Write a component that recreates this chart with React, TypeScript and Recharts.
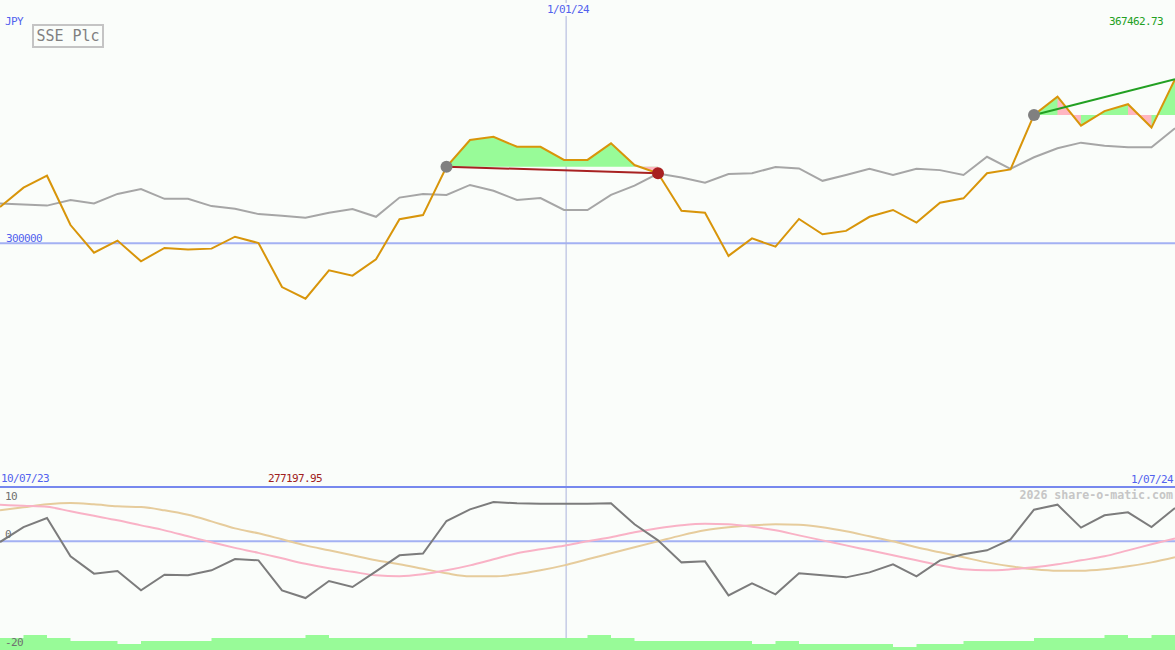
import React from 'react';
import { ComposedChart, Line, Area, XAxis, YAxis, ReferenceLine, ReferenceDot } from 'recharts';

// ---- data (weekly points, index 0 = 10/07/23, index 50 = 1/07/24) ----
const CLOSE = [314900, 322900, 327800, 307500, 296100, 301100, 292600, 298100, 297400, 297800,
  302700, 300100, 282000, 277197.95, 288900, 286700, 293400, 309900, 311600, 331500,
  342500, 343800, 339700, 339700, 334300, 334300, 341100, 332200, 328800, 313400,
  312600, 294800, 302000, 298600, 310000, 303700, 305100, 310900, 313700, 308500,
  316700, 318500, 328800, 330400, 352800, 360300, 348400, 354400, 357200, 347600, 367462.73];

const AVG = [316400, 316000, 315500, 317800, 316400, 320300, 322300, 318300, 318300, 315300,
  314200, 312000, 311300, 310500, 312600, 314100, 310900, 318800, 320300, 319900,
  324000, 321600, 317800, 318600, 313700, 313700, 319900, 323700, 328700, 327100,
  324900, 328500, 328800, 331400, 330800, 325700, 328100, 330600, 328100, 330700,
  330100, 328100, 335600, 330600, 335400, 339100, 341400, 340100, 339500, 339500, 347300];

const OSC = [-0.13, 2.63, 4.29, -2.76, -5.95, -5.47, -9.02, -6.13, -6.26, -5.34,
  -3.26, -3.5, -9.02, -10.44, -7.31, -8.41, -5.52, -2.58, -2.26, 3.74,
  5.89, 7.23, 6.99, 6.94, 6.94, 6.94, 6.99, 3.13, 0.18, -3.87,
  -3.68, -9.94, -7.73, -9.75, -5.89, -6.26, -6.63, -5.71, -4.23, -6.44,
  -3.5, -2.39, -1.66, 0.37, 5.83, 6.75, 2.52, 4.79, 5.34, 2.63, 6.13];

const PINK = [6.72, 6.53, 6.35, 5.52, 4.69, 3.87, 2.94, 2.02, 0.92, -0.18,
  -1.2, -2.12, -3.13, -4.14, -4.97, -5.61, -6.26, -6.44, -6.07, -5.34,
  -4.42, -3.31, -2.21, -1.47, -0.83, 0, 0.74, 1.66, 2.39, 2.94,
  3.22, 3.13, 2.67, 2.02, 1.1, 0.18, -0.74, -1.66, -2.58, -3.5,
  -4.42, -5.15, -5.34, -5.15, -4.79, -4.23, -3.5, -2.76, -1.66, -0.55, 0.55];

const TAN = [5.71, 6.26, 6.81, 7.05, 6.81, 6.44, 6.31, 5.71, 4.88, 3.68,
  2.39, 1.47, 0.37, -0.74, -1.66, -2.58, -3.5, -4.23, -5.06, -5.89,
  -6.44, -6.44, -6.07, -5.34, -4.42, -3.31, -2.21, -1.1, 0, 1.1,
  2.02, 2.58, 2.94, 3.13, 3.04, 2.58, 1.84, 0.92, 0, -1.1,
  -2.02, -2.94, -3.87, -4.6, -5.15, -5.43, -5.43, -5.15, -4.6, -3.87, -2.94];

const VOLUME = [4, 5, 4, 3, 3, 2, 3, 3, 3, 4,
  4, 4, 4, 5, 4, 4, 4, 4, 4, 4,
  4, 4, 4, 4, 4, 5, 4, 3, 3, 3,
  3, 3, 2, 3, 2, 2, 2, 2, 1, 2,
  2, 3, 3, 3, 4, 4, 4, 5, 4, 5, 5];

const TRADES = [
  { entry: 19, exit: 28, closed: true },
  { entry: 44, exit: 50, closed: false },
];

const YEAR_MARK = 24.09; // position of 1/01/24 on the index scale
const REF_LEVEL = 300000;
const PRICE_DOMAIN = [199735, 400087];
const OSC_DOMAIN = [-20, 10];
const VOL_DOMAIN = [0, 54.33];

const LABEL_START = '10/07/23';
const LABEL_END = '1/07/24';
const LABEL_YEAR = '1/01/24';
const LABEL_MAX = '367462.73';
const LABEL_MIN = '277197.95';

const BG = '#fafdfa';
const BLUE = '#5262ee';
const MONO = "'DejaVu Sans Mono', monospace";
const W = 1175;
const MAIN_H = 487;
const LOW_H = 165;
const M0 = { top: 0, right: 0, bottom: 0, left: 0 };
const M2 = { top: 2, right: 0, bottom: 0, left: 0 };

function T({ children, left, right, cy, color, size = 11, bold = false, ls = -0.62, bg }: any) {
  const style: any = {
    position: 'absolute', top: cy - size / 2 - 1, lineHeight: `${size + 2}px`, fontSize: size,
    fontFamily: MONO, color, letterSpacing: ls, whiteSpace: 'nowrap', fontWeight: bold ? 'bold' : 'normal',
  };
  if (left !== undefined) style.left = left;
  if (right !== undefined) style.right = W - right;
  if (bg) style.background = bg;
  return <div style={style}>{children}</div>;
}

const layer = (top: number, child: any) => (
  <div style={{ position: 'absolute', left: 0, top }}>{child}</div>
);

export default function App() {
  const rows: any[] = CLOSE.map((c, i) => ({
    i, close: c, avg: AVG[i], osc: OSC[i], pink: PINK[i], tan: TAN[i], vol: VOLUME[i],
  }));
  TRADES.forEach((t) => {
    const level = CLOSE[t.entry];
    for (let i = t.entry; i <= t.exit; i++) rows[i].gain = [level, CLOSE[i]];
    for (let i = t.entry + 1; i <= t.exit; i++) {
      if (CLOSE[i] < level) {
        rows[i - 1].loss = [level, CLOSE[i - 1]];
        rows[i].loss = [level, CLOSE[i]];
      }
    }
  });

  const xAxis = <XAxis type="number" dataKey="i" domain={[0, 50]} hide />;

  return (
    <div style={{ position: 'relative', width: W, height: 650, background: BG, overflow: 'hidden' }}>
      <style>{'body{margin:0;}'}</style>

      {/* main panel: background guides */}
      {layer(0,
        <ComposedChart width={W} height={MAIN_H} data={rows} margin={M0}>
          {xAxis}
          <YAxis domain={PRICE_DOMAIN} hide allowDataOverflow />
          <ReferenceLine y={REF_LEVEL} stroke="#a3b1f3" strokeWidth={2} />
          <ReferenceLine x={YEAR_MARK} stroke="#aab2dc" strokeWidth={1} />
        </ComposedChart>
      )}
      {/* main panel: price */}
      {layer(0,
        <ComposedChart width={W} height={MAIN_H} data={rows} margin={M0}>
          {xAxis}
          <YAxis domain={PRICE_DOMAIN} hide allowDataOverflow />
          <Area dataKey="gain" type="linear" fill="#98fb98" fillOpacity={1} stroke="none" isAnimationActive={false} />
          <Area dataKey="loss" type="linear" fill="#ffb6c1" fillOpacity={1} stroke="none" isAnimationActive={false} />
          <Line dataKey="avg" type="linear" stroke="#a6a6a6" strokeWidth={2} dot={false} activeDot={false} isAnimationActive={false} />
          <Line dataKey="close" type="linear" stroke="#d8950a" strokeWidth={2} dot={false} activeDot={false} isAnimationActive={false} />
          {TRADES.map((t, k) => {
            const win = CLOSE[t.exit] >= CLOSE[t.entry];
            return (
              <ReferenceLine key={'tl' + k}
                segment={[{ x: t.entry, y: CLOSE[t.entry] }, { x: t.exit, y: CLOSE[t.exit] }]}
                stroke={win ? '#22a022' : '#a82222'} strokeWidth={2} />
            );
          })}
          {TRADES.map((t, k) => (
            <ReferenceDot key={'en' + k} x={t.entry} y={CLOSE[t.entry]} r={6} fill="#808080" stroke="none" />
          ))}
          {TRADES.filter((t) => t.closed).map((t, k) => (
            <ReferenceDot key={'ex' + k} x={t.exit} y={CLOSE[t.exit]} r={6} fill="#a82020" stroke="none" />
          ))}
        </ComposedChart>
      )}

      {/* lower panel: guides */}
      {layer(485,
        <ComposedChart width={W} height={LOW_H} data={rows} margin={M2}>
          {xAxis}
          <YAxis yAxisId="osc" domain={OSC_DOMAIN} hide allowDataOverflow />
          <ReferenceLine yAxisId="osc" y={0} stroke="#a3b1f3" strokeWidth={2} />
          <ReferenceLine yAxisId="osc" x={YEAR_MARK} stroke="#aab2dc" strokeWidth={1} />
        </ComposedChart>
      )}
      {/* lower panel: oscillators */}
      {layer(485,
        <ComposedChart width={W} height={LOW_H} data={rows} margin={M2}>
          {xAxis}
          <YAxis yAxisId="osc" domain={OSC_DOMAIN} hide allowDataOverflow />
          <Line yAxisId="osc" dataKey="tan" type="monotone" stroke="#e6cc9c" strokeWidth={2} dot={false} activeDot={false} isAnimationActive={false} />
          <Line yAxisId="osc" dataKey="pink" type="monotone" stroke="#f9b2c6" strokeWidth={2} dot={false} activeDot={false} isAnimationActive={false} />
          <Line yAxisId="osc" dataKey="osc" type="linear" stroke="#7c7c7c" strokeWidth={2} dot={false} activeDot={false} isAnimationActive={false} />
        </ComposedChart>
      )}
      {/* lower panel: volume + separator */}
      {layer(485,
        <ComposedChart width={W} height={LOW_H} data={rows} margin={M2}>
          {xAxis}
          <YAxis yAxisId="vol" domain={VOL_DOMAIN} hide allowDataOverflow />
          <Area yAxisId="vol" dataKey="vol" type="stepAfter" fill="#98fb98" fillOpacity={1} stroke="none" isAnimationActive={false} />
          <ReferenceLine yAxisId="vol" y={VOL_DOMAIN[1]} stroke="#7788ee" strokeWidth={2} />
        </ComposedChart>
      )}

      <T left={5} cy={21} color={BLUE}>JPY</T>
      <div style={{
        position: 'absolute', left: 32, top: 24, width: 72, height: 24, boxSizing: 'border-box',
        border: '2px solid #c4c4c4', fontFamily: MONO, fontSize: 15, color: '#808080',
        lineHeight: '20px', textAlign: 'center', letterSpacing: 0,
      }}>SSE Plc</div>
      <T left={547} cy={9} color={BLUE} bg={BG}>{LABEL_YEAR}</T>
      <T right={1163} cy={21} color="#22a022">{LABEL_MAX}</T>
      <T left={6} cy={238} color={BLUE}>{String(REF_LEVEL)}</T>
      <T left={1} cy={478.5} color={BLUE}>{LABEL_START}</T>
      <T left={268} cy={478.5} color="#a02020">{LABEL_MIN}</T>
      <T right={1173} cy={479} color={BLUE}>{LABEL_END}</T>
      <T left={5} cy={496} color="#707070">{String(OSC_DOMAIN[1])}</T>
      <T left={5} cy={534} color="#707070">0</T>
      <T left={5} cy={642} color="#707070">{String(OSC_DOMAIN[0])}</T>
      <T right={1173} cy={496} color="#c6c6c6" size={11.6} bold ls={0}>2026 share-o-matic.com</T>
    </div>
  );
}
